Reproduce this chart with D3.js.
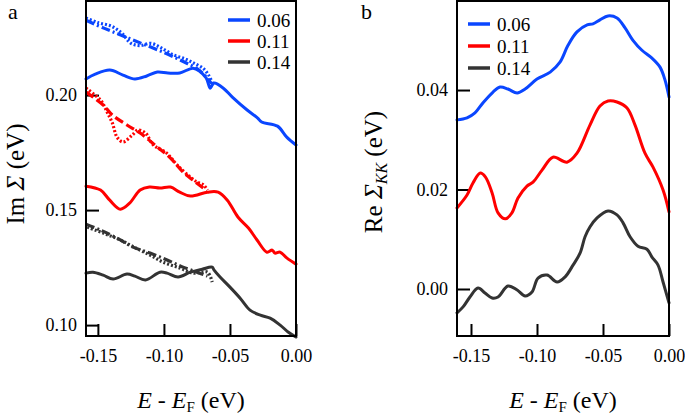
<!DOCTYPE html>
<html>
<head>
<meta charset="utf-8">
<script src="https://cdn.jsdelivr.net/npm/d3@7"></script>
<style>
  body { margin: 0; background: #fff; }
  svg { display: block; }
  svg text { font-family: "Liberation Serif", "DejaVu Serif", serif; }
</style>
</head>
<body>
<div id="display"></div>
<script>
// legend entries (shared by both panels)
const legendLabels = ["0.06", "0.11", "0.14"]
const colors = ["#0a46ff", "#ff0000", "#333333"]

// x ticks (E - EF, eV)
const xTicks = [-0.15, -0.10, -0.05, 0.00]

// panel a: Im Sigma, ticks
const aTicks = [0.10, 0.15, 0.20]
// panel a solid curves [E, value]
const aBlue = [[-0.159,0.207],[-0.152,0.2091],[-0.141,0.2109],[-0.131,0.2087],[-0.122,0.207],[-0.113,0.2083],[-0.105,0.210],[-0.097,0.2096],[-0.088,0.2096],[-0.078,0.2117],[-0.073,0.2104],[-0.068,0.2074],[-0.065,0.203],[-0.0635,0.2043],[-0.062,0.2052],[-0.055,0.203],[-0.048,0.199],[-0.037,0.1935],[-0.029,0.190],[-0.026,0.1883],[-0.014,0.1865],[-0.007,0.1817],[0.000,0.1783]]
const aRed = [[-0.159,0.1604],[-0.148,0.1587],[-0.141,0.1543],[-0.133,0.1504],[-0.126,0.153],[-0.118,0.1587],[-0.111,0.160],[-0.103,0.1596],[-0.095,0.160],[-0.088,0.1578],[-0.080,0.1561],[-0.067,0.1578],[-0.059,0.1578],[-0.052,0.1543],[-0.044,0.147],[-0.036,0.1422],[-0.0295,0.137],[-0.022,0.1317],[-0.018,0.1326],[-0.016,0.1313],[-0.012,0.1317],[-0.0068,0.1291],[0.000,0.1265]]
const aBlack = [[-0.159,0.1226],[-0.1537,0.123],[-0.146,0.1217],[-0.1385,0.120],[-0.128,0.1222],[-0.122,0.1213],[-0.114,0.1196],[-0.103,0.123],[-0.0976,0.1226],[-0.0893,0.1209],[-0.080,0.123],[-0.071,0.1243],[-0.0635,0.1252],[-0.062,0.1239],[-0.0575,0.1209],[-0.050,0.1165],[-0.0423,0.1117],[-0.0348,0.1065],[-0.027,0.1043],[-0.0196,0.103],[-0.012,0.100],[-0.006,0.097],[0.000,0.0948]]
// panel a dashed / dotted curves
const aBlueDash = [[-0.159,0.2325],[-0.145,0.229],[-0.13,0.2255],[-0.115,0.222],[-0.1,0.2185],[-0.085,0.2145],[-0.075,0.2115],[-0.068,0.208],[-0.064,0.205]]
const aBlueDot = [[-0.159,0.2335],[-0.15,0.2315],[-0.14,0.230],[-0.132,0.227],[-0.125,0.2225],[-0.118,0.2215],[-0.11,0.2225],[-0.102,0.2205],[-0.093,0.2175],[-0.083,0.2155],[-0.076,0.2135],[-0.07,0.2115],[-0.066,0.2085],[-0.063,0.205]]
const aRedDash = [[-0.159,0.2013],[-0.146,0.1957],[-0.139,0.1913],[-0.128,0.187],[-0.118,0.1835],[-0.105,0.1774],[-0.095,0.1726],[-0.0855,0.1665],[-0.078,0.163],[-0.069,0.1591]]
const aRedDot = [[-0.159,0.203],[-0.148,0.1978],[-0.143,0.1926],[-0.139,0.1878],[-0.1355,0.1817],[-0.131,0.1796],[-0.124,0.1826],[-0.1196,0.1848],[-0.114,0.1835],[-0.108,0.1783],[-0.098,0.1748],[-0.090,0.1696],[-0.080,0.1643],[-0.075,0.1622],[-0.070,0.1609],[-0.067,0.1587]]
const aBlackDash = [[-0.159,0.1439],[-0.148,0.1413],[-0.1355,0.1378],[-0.1234,0.1339],[-0.1105,0.1313],[-0.0976,0.1283],[-0.0855,0.1252],[-0.075,0.123],[-0.067,0.1213]]
const aBlackDot = [[-0.158,0.1426],[-0.146,0.140],[-0.133,0.137],[-0.123,0.134],[-0.1105,0.1304],[-0.1007,0.1274],[-0.088,0.1248],[-0.078,0.1226],[-0.067,0.123],[-0.0635,0.1187]]

// panel b: Re Sigma_KK
const bTicks = [0.00, 0.02, 0.04]
const bBlue = [[-0.1606,0.034],[-0.153,0.0344],[-0.147,0.0354],[-0.141,0.0374],[-0.1333,0.0396],[-0.128,0.0406],[-0.122,0.0402],[-0.115,0.0394],[-0.109,0.0402],[-0.100,0.0422],[-0.090,0.0436],[-0.0826,0.0456],[-0.0765,0.049],[-0.0697,0.0517],[-0.062,0.0531],[-0.0576,0.0533],[-0.0523,0.0541],[-0.0462,0.0549],[-0.0394,0.0545],[-0.0333,0.0525],[-0.0273,0.050],[-0.0205,0.048],[-0.0129,0.0464],[-0.0068,0.0446],[-0.003,0.042],[0.000,0.0386]]
const bRed = [[-0.1606,0.0163],[-0.153,0.0189],[-0.1485,0.0213],[-0.143,0.0233],[-0.139,0.0225],[-0.134,0.0193],[-0.1295,0.0153],[-0.124,0.0141],[-0.119,0.0153],[-0.1144,0.0183],[-0.1076,0.0207],[-0.103,0.0215],[-0.0962,0.0239],[-0.0879,0.0265],[-0.0773,0.0255],[-0.0697,0.0273],[-0.0598,0.033],[-0.0523,0.0368],[-0.0462,0.0378],[-0.0394,0.0376],[-0.0318,0.0364],[-0.0258,0.033],[-0.0182,0.0273],[-0.0121,0.0245],[-0.0045,0.0199],[0.000,0.0155]]
const bBlack = [[-0.1606,-0.0048],[-0.156,-0.0036],[-0.1508,-0.0016],[-0.1447,0.0002],[-0.1394,-0.0008],[-0.134,-0.0018],[-0.1295,-0.0016],[-0.122,0.0006],[-0.115,-0.0002],[-0.109,-0.0014],[-0.1038,-0.0006],[-0.0992,0.0022],[-0.0924,0.0028],[-0.0848,0.0014],[-0.0788,0.0024],[-0.0727,0.0048],[-0.0674,0.0072],[-0.0636,0.0105],[-0.0598,0.0125],[-0.0545,0.0143],[-0.0462,0.0157],[-0.0394,0.0149],[-0.0348,0.0133],[-0.0295,0.0105],[-0.0235,0.0086],[-0.0167,0.008],[-0.0129,0.0064],[-0.0083,0.0048],[-0.0045,0.0014],[0.000,-0.0028]]

function chart(parentNode)
{
  let width = 685
  let height = 419

  const svg = d3.create("svg")
      .attr("width", width)
      .attr("height", height)
      .attr("viewBox", [0, 0, width, height])

  const fmt = d => d.toFixed(2)

  function panel(opt) {
    const x = d3.scaleLinear(opt.xDomain, [opt.left, opt.right])
    const y = d3.scaleLinear(opt.yDomain, [opt.bottom, opt.top])
    const g = svg.append("g")

    // y axis, ticks pointing inside
    g.append("g")
        .attr("transform", `translate(${opt.left},0)`)
        .call(d3.axisLeft(y).tickValues(opt.yTicks).tickSize(-13).tickPadding(9).tickFormat(fmt))
        .attr("font-family", null)
        .call(a => a.select(".domain").remove())
        .call(a => a.selectAll("line").attr("stroke", "#000").attr("stroke-width", 2))
        .call(a => a.selectAll("text").attr("font-size", 18).attr("fill", "#000"))

    g.append("g")
        .attr("transform", `translate(0,${opt.bottom})`)
        .call(d3.axisBottom(x).tickValues(xTicks).tickSize(-12).tickPadding(13).tickFormat(fmt))
        .attr("font-family", null)
        .call(a => a.select(".domain").remove())
        .call(a => a.selectAll("line").attr("stroke", "#000").attr("stroke-width", 2))
        .call(a => a.selectAll("text").attr("font-size", 18).attr("fill", "#000"))

    const line = d3.line()
        .x(d => x(d[0]))
        .y(d => y(d[1]))
        .curve(d3.curveCatmullRom)

    g.append("g")
      .selectAll("path")
      .data(opt.series)
      .join("path")
        .attr("fill", "none")
        .attr("stroke", d => d.color)
        .attr("stroke-width", d => d.dash ? 3.2 : 3)
        .attr("stroke-dasharray", d => d.dash)
        .attr("stroke-linecap", d => d.dash ? "butt" : "round")
        .attr("stroke-linejoin", "round")
        .attr("d", d => line(d.values))

    // frame
    g.append("rect")
        .attr("x", opt.left)
        .attr("y", opt.top)
        .attr("width", opt.right - opt.left)
        .attr("height", opt.bottom - opt.top)
        .attr("fill", "none")
        .attr("stroke", "#000")
        .attr("stroke-width", 2)

    // legend
    const leg = g.append("g")
    legendLabels.forEach((lab, i) => {
      const ly = opt.legY + i * opt.legStep
      leg.append("line")
          .attr("x1", opt.legX).attr("x2", opt.legX + 22)
          .attr("y1", ly).attr("y2", ly)
          .attr("stroke", colors[i]).attr("stroke-width", 3.5)
      leg.append("text")
          .attr("x", opt.legX + 29).attr("y", ly + 6.5)
          .attr("font-size", 19)
          .text(lab)
    })

    // panel letter
    g.append("text")
        .attr("x", opt.letterX).attr("y", 19)
        .attr("font-size", 22)
        .text(opt.letter)

    // x title
    const xt = g.append("text")
        .attr("x", (opt.left + opt.right) / 2)
        .attr("y", 408)
        .attr("text-anchor", "middle")
        .attr("font-size", 24)
    xt.append("tspan").attr("font-style", "italic").text("E")
    xt.append("tspan").text(" - ")
    xt.append("tspan").attr("font-style", "italic").text("E")
    xt.append("tspan").attr("font-size", 15).attr("dy", 4).text("F")
    xt.append("tspan").attr("dy", -4).text(" (eV)")

    return g
  }

  const ga = panel({
    left: 86, right: 296, top: 1, bottom: 336,
    xDomain: [-0.159, 0], yDomain: [0.09526, 0.2409],
    yTicks: aTicks,
    legX: 228, legY: 20, legStep: 21,
    letter: "a", letterX: 8,
    series: [
      {values: aBlueDash, color: colors[0], dash: "9 3 2 3"},
      {values: aBlueDot, color: colors[0], dash: "2 2"},
      {values: aRedDash, color: colors[1], dash: "9 4"},
      {values: aRedDot, color: colors[1], dash: "2 2"},
      {values: aBlackDash, color: colors[2], dash: "9 3 2 3"},
      {values: aBlackDot, color: colors[2], dash: "2 2"},
      {values: aBlue, color: colors[0]},
      {values: aRed, color: colors[1]},
      {values: aBlack, color: colors[2]}
    ]
  })

  const yta = ga.append("text")
      .attr("transform", "translate(24,174) rotate(-90)")
      .attr("text-anchor", "middle")
      .attr("font-size", 25)
  yta.append("tspan").text("Im ")
  yta.append("tspan").attr("font-style", "italic").text("Σ")
  yta.append("tspan").text(" (eV)")

  const gb = panel({
    left: 457, right: 669, top: 1, bottom: 336,
    xDomain: [-0.1606, 0], yDomain: [-0.00945, 0.0579],
    yTicks: bTicks,
    legX: 468, legY: 24, legStep: 22,
    letter: "b", letterX: 361,
    series: [
      {values: bBlue, color: colors[0]},
      {values: bRed, color: colors[1]},
      {values: bBlack, color: colors[2]}
    ]
  })

  const ytb = gb.append("text")
      .attr("transform", "translate(382,172) rotate(-90)")
      .attr("text-anchor", "middle")
      .attr("font-size", 25)
  ytb.append("tspan").text("Re ")
  ytb.append("tspan").attr("font-style", "italic").text("Σ")
  ytb.append("tspan").attr("font-style", "italic").attr("font-size", 16).attr("dy", 5).text("KK")
  ytb.append("tspan").attr("dy", -5).text(" (eV)")

  parentNode.appendChild(svg.node())
}

document.addEventListener("DOMContentLoaded", () => {
    chart(document.getElementById("display"));
})
</script>
</body>
</html>
